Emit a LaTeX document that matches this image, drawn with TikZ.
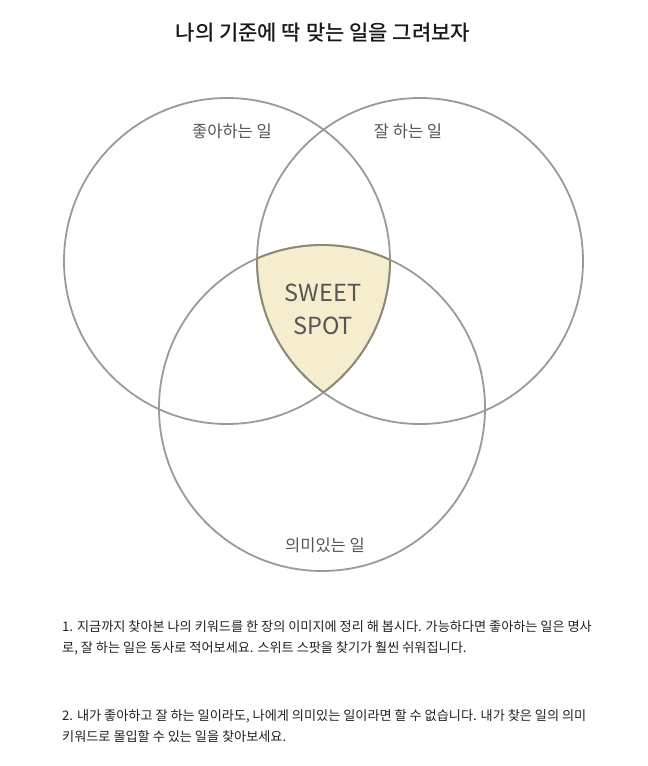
\documentclass[tikz,border=0pt]{standalone}
\usepackage{fontspec}
\usepackage{xcolor}
\setmainfont{Noto Sans CJK KR}
\newfontfamily\krfont{Noto Sans CJK KR}
\newfontfamily\krmedium{Noto Sans CJK KR Medium}
\usetikzlibrary{positioning}
\definecolor{ringgray}{HTML}{9A9A9A}
\definecolor{spotfill}{HTML}{F6EDCE}
\definecolor{spotedge}{HTML}{8E8874}
\definecolor{labelgray}{HTML}{555555}
\definecolor{bodyink}{HTML}{222222}

\begin{document}
\begin{tikzpicture}[x=1pt, y=-1pt,
  ring/.style={draw=ringgray, line width=1.8pt},
  setlabel/.style={font=\krfont\fontsize{16.5}{16.5}\selectfont, text=labelgray, inner sep=0pt},
  spotlabel/.style={font=\krfont\fontsize{23.5}{33}\selectfont, text=labelgray, align=center, inner sep=0pt},
  note/.style={font=\krfont\fontsize{13.15}{13.15}\selectfont, text=bodyink, anchor=west, inner sep=0pt},
]
\useasboundingbox[fill=white] (0,0) rectangle (648,766);

% Circle centres
\coordinate (like) at (227,261);
\coordinate (good) at (420,261);
\coordinate (mean) at (322,408);
\def\rad{163}

% Sweet spot fill
\begin{scope}
  \clip (like) circle (\rad);
  \clip (good) circle (\rad);
  \fill[spotfill] (mean) circle (\rad);
\end{scope}

% Circles
\draw[ring] (like) circle (\rad);
\draw[ring] (good) circle (\rad);
\draw[ring] (mean) circle (\rad);

% Sweet spot edge
\begin{scope}
  \clip (like) circle (\rad);
  \clip (good) circle (\rad);
  \draw[line width=1.8pt, spotedge] (mean) circle (\rad);
\end{scope}
\begin{scope}
  \clip (like) circle (\rad);
  \clip (mean) circle (\rad);
  \draw[line width=1.8pt, spotedge] (good) circle (\rad);
\end{scope}
\begin{scope}
  \clip (good) circle (\rad);
  \clip (mean) circle (\rad);
  \draw[line width=1.8pt, spotedge] (like) circle (\rad);
\end{scope}

% Title
\node[font=\krmedium\fontsize{21}{21}\selectfont, text=black!90, inner sep=0pt] (title) at (323,33) {나의 기준에 딱 맞는 일을 그려보자};

% Set labels
\node[setlabel] (likelbl) at (232,131) {좋아하는 일};
\node[setlabel] (goodlbl) at (408,131) {잘 하는 일};
\node[setlabel] (meanlbl) at (325,545) {의미있는 일};
\node[spotlabel] (spot) at (323,309) {SWEET\\SPOT};

% Notes
\node[note] (n1a) at (62,627) {1. 지금까지 찾아본 나의 키워드를 한 장의 이미지에 정리 해 봅시다. 가능하다면 좋아하는 일은 명사};
\node[note] (n1b) at (62,648) {로, 잘 하는 일은 동사로 적어보세요. 스위트 스팟을 찾기가 훨씬 쉬워집니다.};
\node[note] (n2a) at (62,716) {2. 내가 좋아하고 잘 하는 일이라도, 나에게 의미있는 일이라면 할 수 없습니다. 내가 찾은 일의 의미};
\node[note] (n2b) at (62,737) {키워드로 몰입할 수 있는 일을 찾아보세요.};

\end{tikzpicture}
\end{document}
